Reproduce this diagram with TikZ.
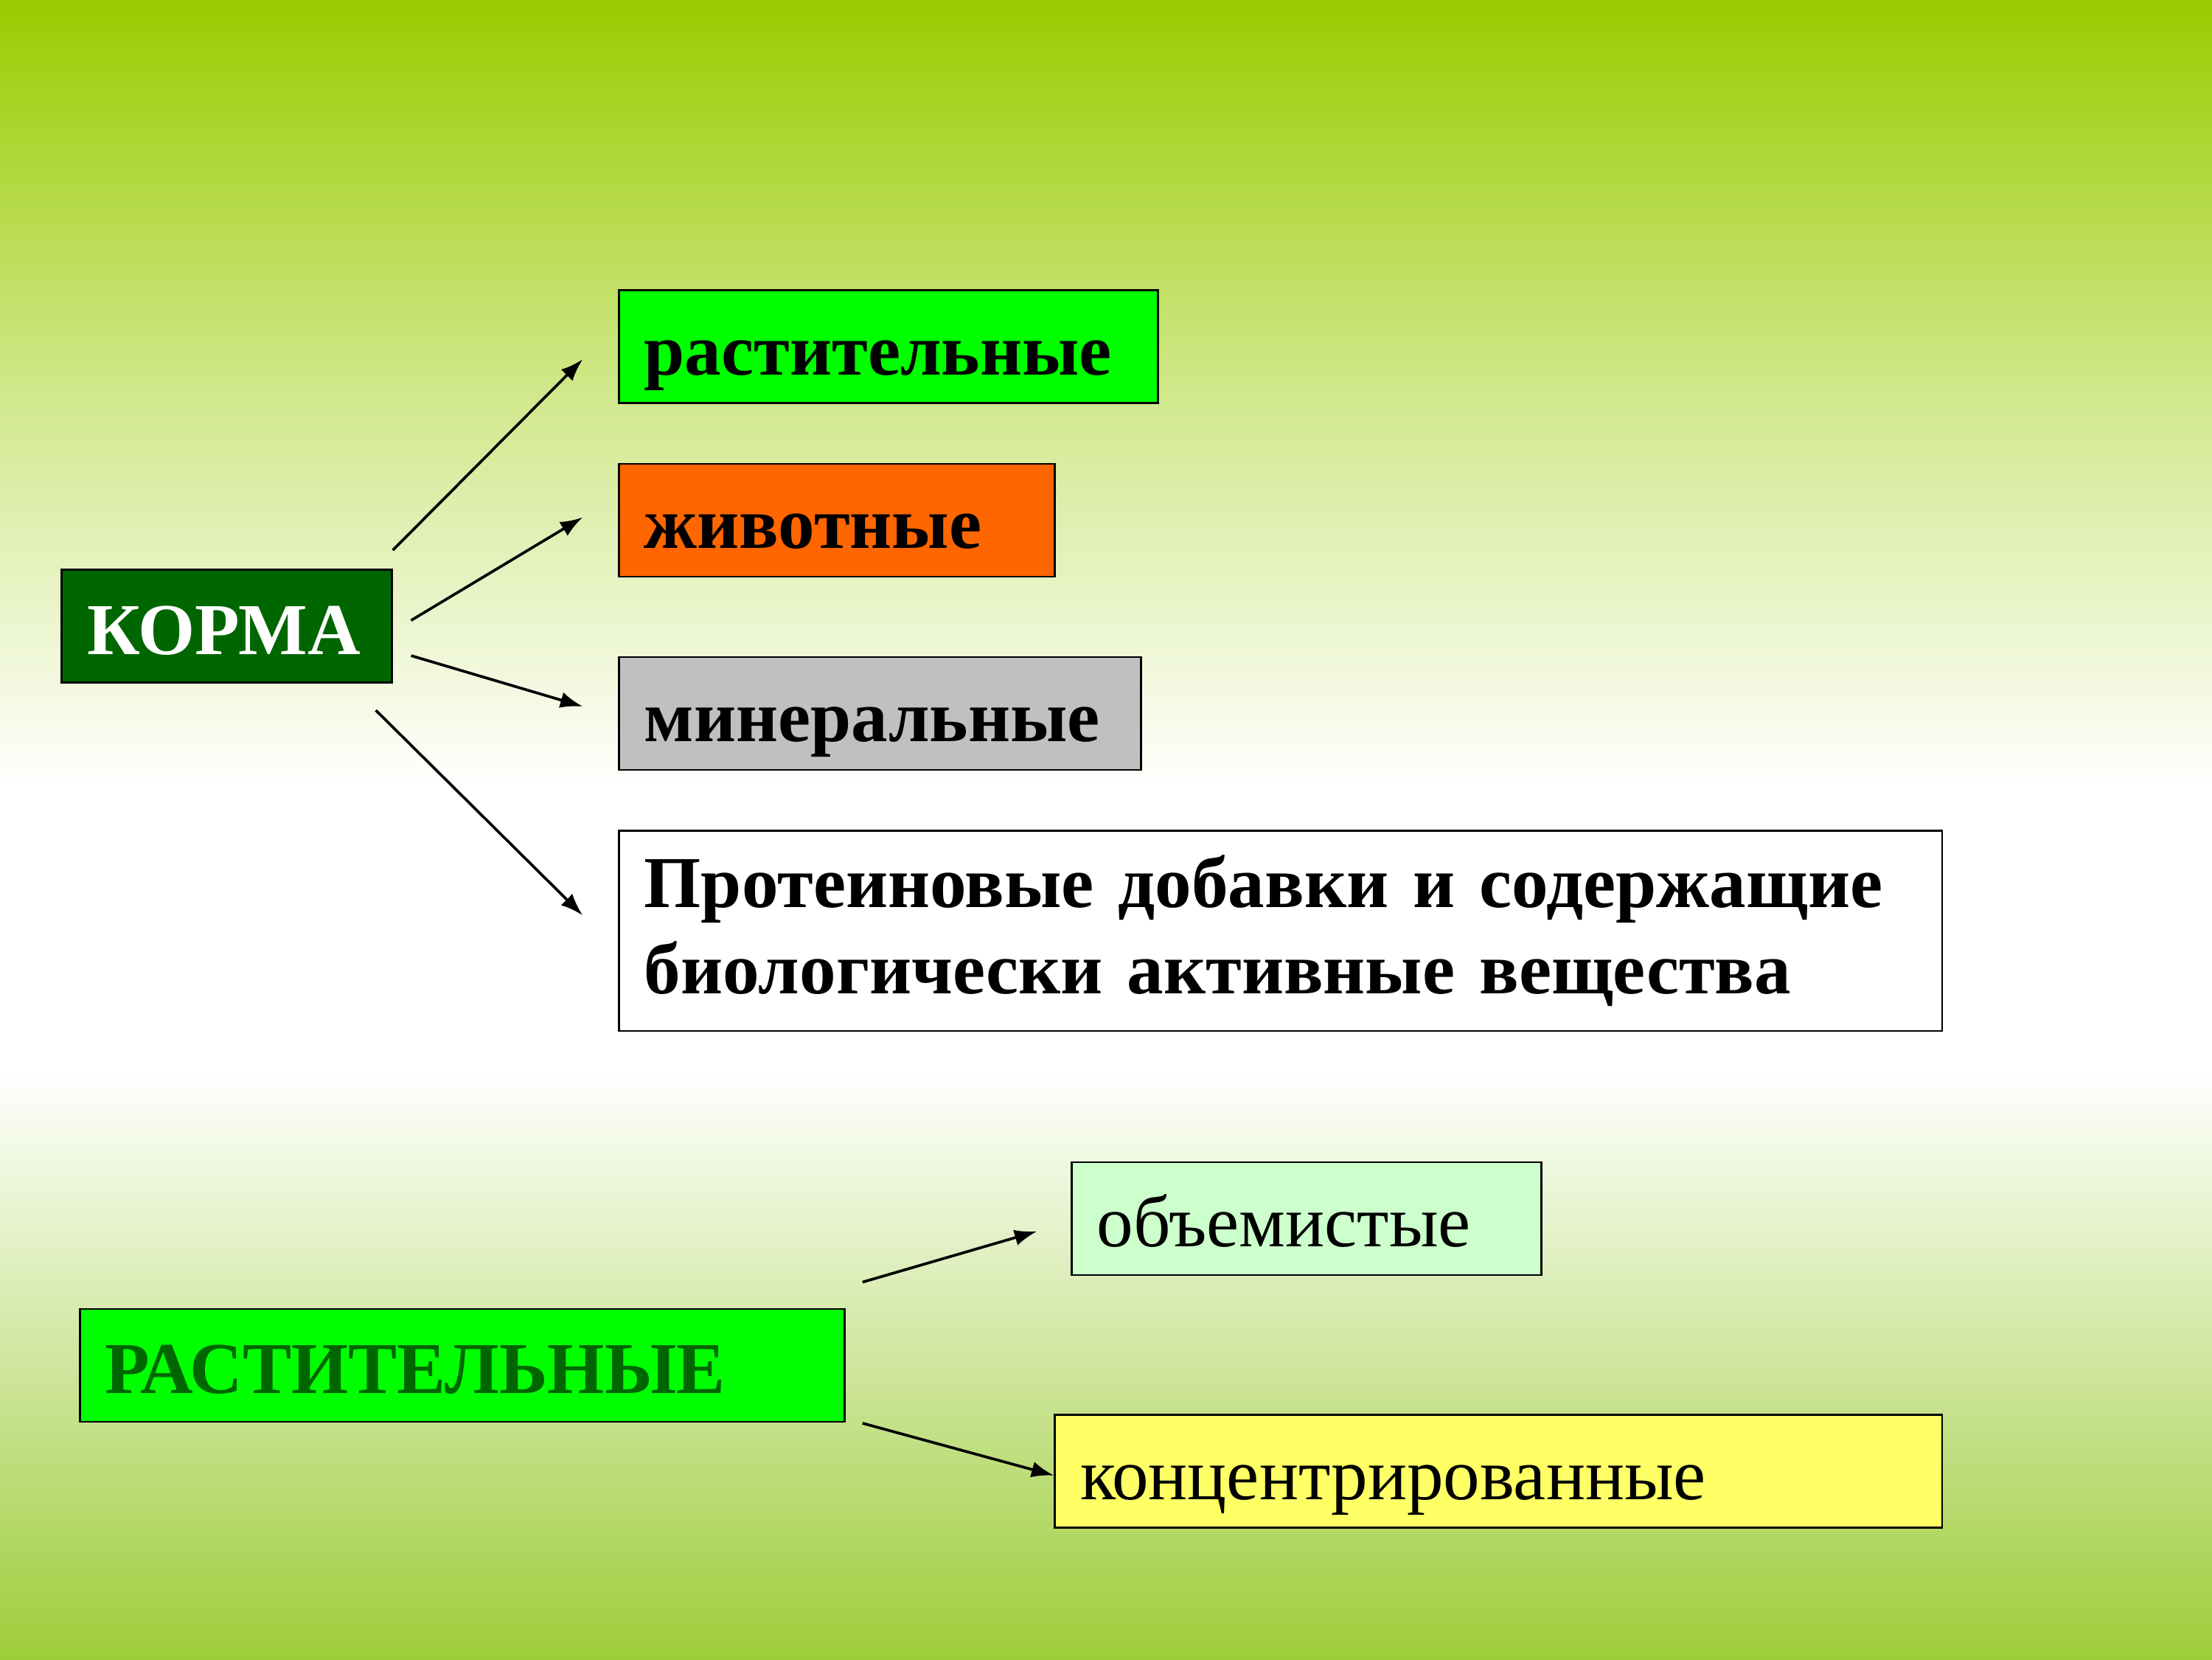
\documentclass[tikz,border=0pt]{standalone}
\usepackage{fontspec}
\setmainfont{Liberation Serif}
\usepackage{xcolor}
\usetikzlibrary{calc, arrows.meta}

\definecolor{bggreen}{HTML}{99CC00}
\definecolor{bgbottom}{HTML}{9DCD3A}
\definecolor{darkgreen}{HTML}{006600}
\definecolor{brightgreen}{HTML}{00FF00}
\definecolor{animorange}{HTML}{FF6600}
\definecolor{mingrey}{HTML}{C0C0C0}
\definecolor{palegreen}{HTML}{CCFFCC}
\definecolor{softyellow}{HTML}{FFFF66}

\newcommand{\slidefont}{\fontsize{29.5}{35}\selectfont}

\tikzset{
	box/.style = {draw = black, line width = 0.8pt, anchor = north west, inner xsep = 0.36cm, inner ysep = 0pt, align = left, font = \slidefont\bfseries},
	oneline/.style = {box, minimum height = 1.6cm, text height = 25pt, text depth = 2.2pt},
	arr/.style = {-{Latex[length = 9pt, width = 6.5pt]}, line width = 1.1pt}
}

\begin{document}
\begin{tikzpicture}
	\useasboundingbox (0,0) rectangle (31.36,23.52);
	
	% background
	\shade [top color = bggreen, bottom color = white, middle color = bggreen!45!white] (0,12.32) rectangle (31.36,23.52);
	\fill [white] (0,8.32) rectangle (31.36,12.32);
	\shade [top color = white, bottom color = bgbottom] (0,0) rectangle (31.36,8.32);
	
	% upper scheme
	\node [oneline, fill = darkgreen, text = white, text width = 3.96cm] (korma) at (0.86,15.46) {КОРМА};
	\node [oneline, fill = brightgreen, text width = 6.92cm] (rast) at (8.76,19.42) {растительные};
	\node [oneline, fill = animorange, text width = 5.46cm] (anim) at (8.76,16.96) {животные};
	\node [oneline, fill = mingrey, text width = 6.68cm] (mineral) at (8.76,14.22) {минеральные};
	\node [box, fill = white, minimum height = 2.84cm, text width = 18.04cm] (protein) at (8.76,11.76) {Протеиновые добавки и содержащие\\биологически активные вещества};
	
	\coordinate (k1) at ($(korma.north east) + (0,0.26)$);
	\coordinate (k2) at ($(korma.east) + (0.26,0.08)$);
	\coordinate (k3) at ($(korma.east) + (0.26,-0.42)$);
	\coordinate (k4) at ($(korma.south east) + (-0.24,-0.38)$);
	\coordinate (t1) at ($(rast.west) + (-0.5,-0.18)$);
	\coordinate (t2) at ($(anim.west) + (-0.5,0.04)$);
	\coordinate (t3) at ($(mineral.west) + (-0.5,0.1)$);
	\coordinate (t4) at ($(protein.west) + (-0.5,0.22)$);
	
	\draw [arr] (k1) -- (t1);
	\draw [arr] (k2) -- (t2);
	\draw [arr] (k3) -- (t3);
	\draw [arr] (k4) -- (t4);
	
	% lower scheme
	\node [oneline, fill = brightgreen, text = darkgreen, text width = 10.12cm] (plant) at (1.12,4.98) {РАСТИТЕЛЬНЫЕ};
	\node [oneline, fill = palegreen, font = \slidefont, text width = 5.94cm] (bulk) at (15.18,7.06) {объемистые};
	\node [oneline, fill = softyellow, font = \slidefont, text width = 11.86cm] (conc) at (14.94,3.48) {концентрированные};
	
	\coordinate (p1) at ($(plant.east) + (0.24,1.18)$);
	\coordinate (p2) at ($(plant.east) + (0.24,-0.82)$);
	\coordinate (b1) at ($(bulk.west) + (-0.48,-0.18)$);
	\coordinate (c1) at ($(conc.west) + (0,-0.06)$);
	
	\draw [arr] (p1) -- (b1);
	\draw [arr] (p2) -- (c1);
\end{tikzpicture}
\end{document}
